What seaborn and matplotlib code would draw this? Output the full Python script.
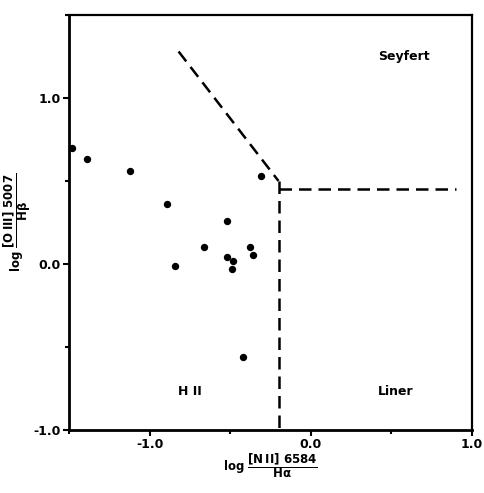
import numpy as np
import pandas as pd
import matplotlib
matplotlib.use("Agg")
import matplotlib.pyplot as plt
import seaborn as sns
from matplotlib.ticker import MultipleLocator

# galaxies: log [NII]/Ha  vs  log [OIII]/Hb
log_nii_ha = [-1.48, -1.39, -1.12, -0.89, -0.66, -0.84, -0.31, -0.52,
              -0.52, -0.48, -0.49, -0.38, -0.36, -0.42]
log_oiii_hb = [0.70, 0.63, 0.56, 0.36, 0.10, -0.01, 0.53, 0.26,
               0.04, 0.02, -0.03, 0.10, 0.055, -0.56]

# dashed dividing lines
diag_x = [-0.82, -0.2]
diag_y = [1.28, 0.5]
vert_x = [-0.2, -0.2]
vert_y = [0.5, -1.0]
horiz_x = [-0.2, 0.9]
horiz_y = [0.45, 0.45]

region_names = ["Seyfert", "H II", "Liner"]
region_x = [0.58, -0.75, 0.53]
region_y = [1.25, -0.77, -0.77]

df = pd.DataFrame({"nii": log_nii_ha, "oiii": log_oiii_hb})

sns.set_style("ticks")
plt.rcParams["font.family"] = ["DejaVu Sans"]
plt.rcParams["font.weight"] = "bold"
plt.rcParams["mathtext.fontset"] = "dejavusans"
plt.rcParams["mathtext.default"] = "bf"
plt.rcParams["axes.unicode_minus"] = False
for key in ["text.color", "axes.labelcolor", "axes.edgecolor",
            "xtick.color", "ytick.color"]:
    plt.rcParams[key] = "black"

fig = plt.figure(figsize=(4.84, 4.93), dpi=100)
ax = fig.add_axes([0.1426, 0.1278, 0.8324, 0.8418])

sns.scatterplot(data=df, x="nii", y="oiii", ax=ax, color="black", s=28,
                edgecolor="black", linewidth=0, clip_on=False, zorder=3)

for xs, ys in [(diag_x, diag_y), (vert_x, vert_y), (horiz_x, horiz_y)]:
    ax.plot(xs, ys, color="black", linewidth=1.8, dashes=(5, 2.8))

for name, tx, ty in zip(region_names, region_x, region_y):
    ax.text(tx, ty, name, ha="center", va="center", fontsize=9,
            fontweight="bold")

ax.set_xlim(-1.5, 1.0)
ax.set_ylim(-1.0, 1.5)
ax.xaxis.set_major_locator(MultipleLocator(1.0))
ax.yaxis.set_major_locator(MultipleLocator(1.0))
ax.xaxis.set_minor_locator(MultipleLocator(0.5))
ax.yaxis.set_minor_locator(MultipleLocator(0.5))
ax.xaxis.set_major_formatter(plt.FuncFormatter(lambda v, p: f"{v:.1f}"))
ax.yaxis.set_major_formatter(plt.FuncFormatter(lambda v, p: f"{v:.1f}"))
ax.tick_params(which="major", length=4, width=1.5, labelsize=9, pad=2)
ax.tick_params(which="minor", length=3, width=1.5)
for lab in ax.get_xticklabels() + ax.get_yticklabels():
    lab.set_fontweight("bold")

for side in ["left", "bottom"]:
    ax.spines[side].set_linewidth(2.0)
for side in ["top", "right"]:
    ax.spines[side].set_linewidth(1.6)

ax.set_xlabel(r"log $\dfrac{[\mathrm{N\,II}]\ 6584}{\mathrm{H}\alpha}$",
              fontsize=8.5, fontweight="bold", labelpad=0)
ax.set_ylabel(r"log $\dfrac{[\mathrm{O\,III}]\ 5007}{\mathrm{H}\beta}$",
              fontsize=8.5, fontweight="bold", labelpad=0)

fig.savefig("out.png", dpi=100)
